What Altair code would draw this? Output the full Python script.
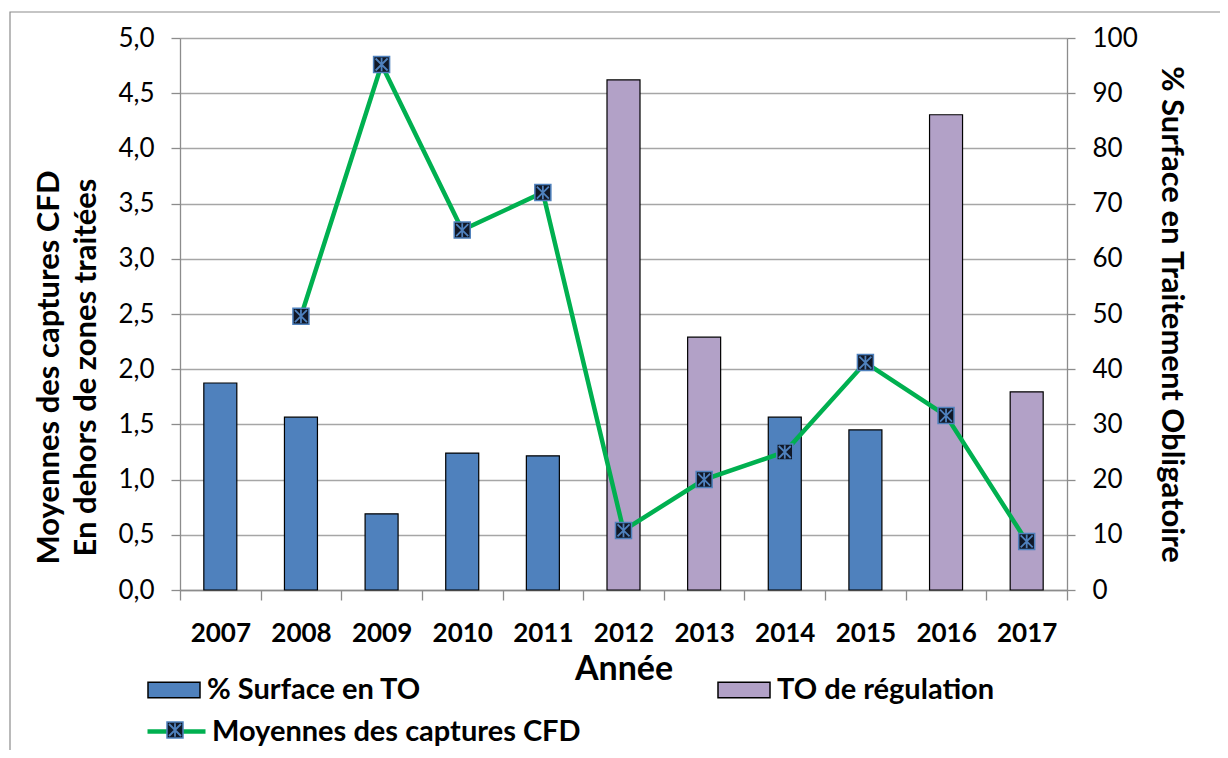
import altair as alt
import pandas as pd

years = ["2007", "2008", "2009", "2010", "2011", "2012", "2013", "2014", "2015", "2016", "2017"]
surface = [37.5, 31.3, 13.8, 24.8, 24.3, 92.4, 45.8, 31.3, 29.0, 86.1, 35.9]
bar_type = ["% Surface en TO"] * 5 + ["TO de régulation"] * 2 + ["% Surface en TO"] * 2 + ["TO de régulation"] * 2
cfd = [None, 2.48, 4.76, 3.26, 3.60, 0.54, 1.00, 1.25, 2.06, 1.58, 0.44]
left_ticks = [0, 0.5, 1.0, 1.5, 2.0, 2.5, 3.0, 3.5, 4.0, 4.5, 5.0]
right_ticks = [0, 10, 20, 30, 40, 50, 60, 70, 80, 90, 100]
bar_types = ["% Surface en TO", "TO de régulation"]
bar_colors = ["#4F81BD", "#B2A1C7"]
line_name = "Moyennes des captures CFD"

FONT = "Lato"
GRID = "#A6A6A6"
AX = "#8C8C8C"
MARK_FILL = "#111827"
MARK_STROKE = "#4F81BD"
SQUARE = "M-1,-1H1V1H-1Z"
STAR = "M-0.75,-0.75L0.75,0.75 M-0.75,0.75L0.75,-0.75 M0,-0.85V0.85"
BARSYM = "M-1,-0.3H1V0.3H-1Z"

df = pd.DataFrame({"year": years, "surface": surface, "type": bar_type, "cfd": cfd})

x_enc = alt.X(
    "year:N", sort=years,
    scale=alt.Scale(paddingInner=0, paddingOuter=0),
    axis=alt.Axis(
        title="Année", labelAngle=0, tickBand="extent", grid=False,
        labelFont=FONT, labelFontSize=26, labelFontWeight="bold", labelColor="black",
        labelPadding=20, tickSize=10, tickColor=AX, domainColor=AX, domainWidth=1.3, tickWidth=1.3,
        titleFont=FONT, titleFontSize=34, titleFontWeight="bold", titleColor="black", titlePadding=6,
    ),
)

bars = alt.Chart(df).mark_bar(size=33, stroke="black", strokeWidth=1.2).encode(
    x=x_enc,
    y=alt.Y(
        "surface:Q", scale=alt.Scale(domain=[0, 100], nice=False),
        axis=alt.Axis(
            orient="right", values=right_ticks, grid=False,
            title="% Surface en Traitement Obligatoire",
            labelFont=FONT, labelFontSize=26, labelColor="black", labelPadding=17,
            tickSize=8, tickColor=AX, domainColor=AX, domainWidth=1.3, tickWidth=1.3,
            titleFont=FONT, titleFontSize=31, titleFontWeight="bold", titleColor="black", titlePadding=17,
        ),
    ),
    color=alt.Color(
        "type:N", scale=alt.Scale(domain=bar_types, range=bar_colors),
        legend=alt.Legend(
            title=None, orient="none", legendX=-33, legendY=625, direction="horizontal",
            columns=2, columnPadding=294, symbolType=BARSYM, symbolSize=2704,
            symbolStrokeColor="black", symbolStrokeWidth=1.5,
            labelFont=FONT, labelFontSize=29, labelFontWeight="bold", labelColor="black",
            labelOffset=6, padding=0, labelLimit=400,
        ),
    ),
)

y_left = alt.Y(
    "cfd:Q", scale=alt.Scale(domain=[0, 5], nice=False),
    axis=alt.Axis(
        orient="left", values=left_ticks,
        labelExpr="replace(format(datum.value, '.1f'), '.', ',')",
        title=["Moyennes des captures CFD", "En dehors de zones traitées"],
        grid=True, gridColor=GRID, gridWidth=1.3,
        labelFont=FONT, labelFontSize=26, labelColor="black", labelPadding=17,
        tickSize=9, tickColor=AX, domainColor=AX, domainWidth=1.3, tickWidth=1.3,
        titleFont=FONT, titleFontSize=31, titleFontWeight="bold", titleColor="black",
        titleLineHeight=37, titlePadding=15, titleY=329,
    ),
)

base = alt.Chart(df).transform_filter("isValid(datum.cfd)").transform_calculate(
    serie=f"'{line_name}'", marque=f"'{line_name} '", etoile=f"'{line_name}  '"
)

line = base.mark_line(strokeWidth=4.5).encode(
    x=alt.X("year:N", sort=years),
    y=y_left,
    stroke=alt.Stroke(
        "serie:N", scale=alt.Scale(domain=[line_name], range=["#00B050"]),
        legend=alt.Legend(
            title=None, orient="none", legendX=-35, legendY=662,
            symbolType="stroke", symbolSize=3364, symbolStrokeWidth=4.5,
            labelFont=FONT, labelFontSize=29, labelFontWeight="bold", labelColor="black",
            labelOffset=4, padding=0, labelLimit=500, zindex=1,
        ),
    ),
)

squares = base.mark_point(filled=True, fill=MARK_FILL, stroke=MARK_STROKE, strokeWidth=1.5, size=256, opacity=1).encode(
    x=alt.X("year:N", sort=years),
    y=y_left,
    shape=alt.Shape(
        "marque:N", scale=alt.Scale(domain=[line_name + " "], range=[SQUARE]),
        legend=alt.Legend(
            title=None, orient="none", legendX=-14, legendY=683,
            symbolSize=256, symbolFillColor=MARK_FILL, symbolOpacity=1,
            labelExpr="''", padding=0, zindex=2,
        ),
    ),
)

stars = base.mark_point(filled=False, color=MARK_STROKE, strokeWidth=1.8, size=256, opacity=1).encode(
    x=alt.X("year:N", sort=years),
    y=y_left,
    shape=alt.Shape(
        "etoile:N", scale=alt.Scale(domain=[line_name + "  "], range=[STAR]),
        legend=alt.Legend(
            title=None, orient="none", legendX=-14, legendY=683,
            symbolSize=256, symbolStrokeColor=MARK_STROKE, symbolStrokeWidth=1.8, symbolOpacity=1,
            labelExpr="''", padding=0, zindex=3,
        ),
    ),
)

frame = alt.Chart(alt.Data(values=[{"a": 1}])).mark_rect(
    filled=False, stroke="#8C8C8C", strokeWidth=1.2
).encode(
    x=alt.value(-170), x2=alt.value(1300), y=alt.value(-26), y2=alt.value(900)
)

cfd_layer = alt.layer(line, squares, stars).resolve_scale(shape="independent")

chart = alt.layer(
    frame, bars, cfd_layer
).resolve_scale(y="independent", color="independent", stroke="independent", shape="independent").properties(
    width=887, height=552,
    padding={"left": 172, "top": 30, "right": 153, "bottom": 160},
    autosize=alt.AutoSizeParams(type="none"),
).configure_view(stroke=None)

chart.save("out.html", embed_options={"renderer": "svg", "actions": False})
